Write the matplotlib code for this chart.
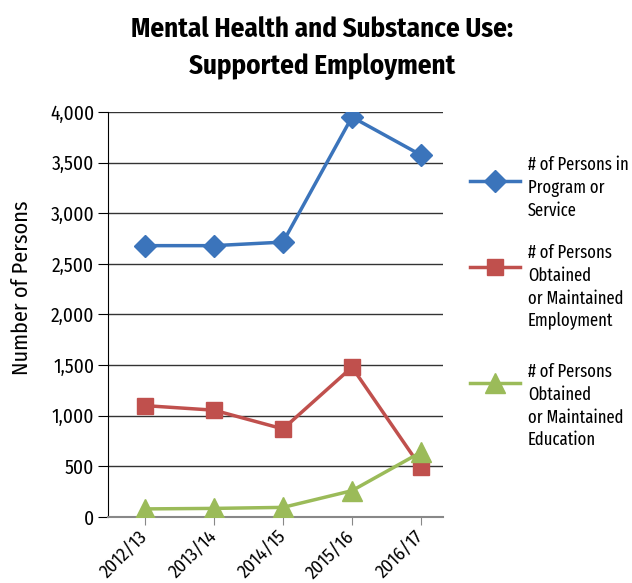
import matplotlib
matplotlib.use("Agg")
import matplotlib.pyplot as plt
from matplotlib import font_manager
from matplotlib.lines import Line2D

# chart data
years = ["2012/13", "2013/14", "2014/15", "2015/16", "2016/17"]
in_program = [2680, 2680, 2715, 3950, 3575]
employment = [1100, 1055, 870, 1480, 490]
education = [80, 85, 95, 260, 640]

labels = [
    "# of Persons in\nProgram or\nService",
    "# of Persons\nObtained\nor Maintained\nEmployment",
    "# of Persons\nObtained\nor Maintained\nEducation",
]
colors = ["#3b74bb", "#c0504d", "#9bbb59"]
markers = ["D", "s", "^"]

# condensed font like the original, if one is installed
names = {f.name for f in font_manager.fontManager.ttflist}
wanted = ["Fira Sans Condensed", "PT Sans Narrow", "Roboto Condensed",
          "Archivo Narrow", "Barlow Semi Condensed", "Liberation Sans Narrow",
          "Liberation Sans"]
fam = [f for f in wanted if f in names][:1] + ["DejaVu Sans"]
plt.rcParams["font.family"] = fam
# legend text is tight against the right edge, so go narrower there
if "Fira Sans Extra Condensed" in names:
    leg_fam, leg_size = ["Fira Sans Extra Condensed", "DejaVu Sans"], 13
else:
    leg_fam, leg_size = fam, 11.5

W, H = 632, 583
fig = plt.figure(figsize=(W / 100, H / 100), dpi=100)
ax = fig.add_axes([0.171, 0.1132, 0.530, 0.6947])

x = list(range(len(years)))
series = [in_program, employment, education]
msize = [11, 11, 14]
for vals, c, m, ms in zip(series, colors, markers, msize):
    ax.plot(x, vals, color=c, marker=m, markersize=ms, linewidth=2.5, zorder=3)

ax.set_ylim(0, 4000)
ax.set_xlim(-0.536, 4.32)
ax.set_yticks(range(0, 4001, 500))
ax.set_yticklabels([f"{v:,}" for v in range(0, 4001, 500)], fontsize=14)
ax.set_xticks(x)
ax.set_xticklabels(years, rotation=45, ha="right", va="center",
                   rotation_mode="anchor", fontsize=13.5)
ax.grid(axis="y", color="#333333", linewidth=1)
ax.set_axisbelow(True)
for s in ["top", "right"]:
    ax.spines[s].set_visible(False)
ax.spines["left"].set_color("black")
ax.spines["bottom"].set_color("#888888")
ax.spines["bottom"].set_linewidth(1.5)
ax.tick_params(axis="y", length=7, color="black", pad=3)
ax.tick_params(axis="x", length=6, color="#888888", pad=6)
ax.set_ylabel("Number of Persons", fontsize=16)
ax.yaxis.set_label_coords(-0.227, 0.565)

fig.suptitle("Mental Health and Substance Use:\nSupported Employment",
             fontsize=19.5, fontweight="bold", y=0.972, x=0.51, linespacing=1.5)

# legend drawn by hand: handle sits near the top of each multi-line label
handle_y = [181, 267, 383]
text_top = [156, 244, 363]
for lab, c, m, ms, hy, ty in zip(labels, colors, markers, msize, handle_y, text_top):
    fy = 1 - hy / H
    fig.add_artist(Line2D([470 / W, 495 / W, 520 / W], [fy, fy, fy],
                          transform=fig.transFigure, color=c, linewidth=2.5,
                          marker=m, markersize=ms, markevery=[1]))
    fig.text(528 / W, 1 - ty / H, lab, fontsize=leg_size, family=leg_fam,
             va="top", ha="left", linespacing=1.35)

fig.savefig("out.png", dpi=100)
